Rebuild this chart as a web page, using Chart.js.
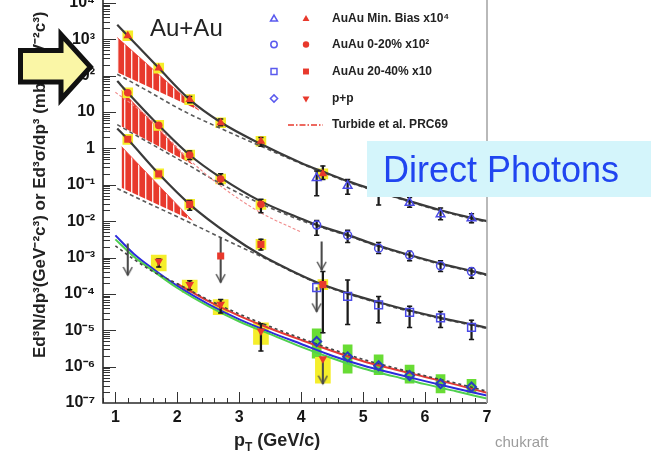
<!DOCTYPE html>
<html>
<head>
<meta charset="utf-8">
<script src="https://cdn.jsdelivr.net/npm/chart.js@4.4.1/dist/chart.umd.min.js"></script>
<style>
  html, body { margin: 0; padding: 0; background: #fff; overflow: hidden; }
  #marco { position: relative; width: 667px; height: 462px; overflow: hidden; }
  #grafica { position: absolute; left: 0; top: -51px; }
</style>
</head>
<body>
<div id="marco"><canvas id="grafica" width="667" height="513"></canvas></div>
<script>
// Ticks de los ejes
const ticksY = [1e-7, 1e-6, 1e-5, 1e-4, 1e-3, 1e-2, 1e-1, 1, 10, 100, 1e3, 1e4, 1e5];
const ticksX = [1, 2, 3, 4, 5, 6, 7];
const leyendaTextos = ["AuAu Min. Bias x10⁴", "AuAu 0-20% x10²", "AuAu 20-40% x10", "p+p", "Turbide et al. PRC69"];

// AuAu Min. Bias x10^4
const mbX = [1.2, 1.7, 2.2, 2.7, 3.35, 4.35];
const mbY = [1260, 162, 22, 5.1, 1.57, 0.2];
const mbErrBajo = [null, null, 18, 4.2, 1.15, 0.14];
const mbErrAlto = [null, null, 27, 6.4, 2.0, 0.33];
const mbAltoX = [4.25, 4.75, 5.25, 5.75, 6.25, 6.75];
const mbAltoY = [0.155, 0.094, 0.06, 0.032, 0.0155, 0.012];
const mbAltoErrBajo = [0.05, 0.055, 0.028, 0.024, 0.011, 0.009];
const mbAltoErrAlto = [0.24, 0.14, 0.09, 0.045, 0.023, 0.016];
const mbAjusteX = [1.03, 1.2, 1.7, 2.2, 2.7, 3.35, 4.0, 4.35, 4.75, 5.25, 5.75, 6.25, 6.75, 7.0];
const mbAjusteY = [2510, 1260, 162, 21.9, 5.25, 1.32, 0.40, 0.23, 0.126, 0.066, 0.0355, 0.020, 0.0123, 0.010];
const mbPqcdX = [1.03, 1.5, 2.1, 2.7, 3.35, 4.0, 4.35, 4.75, 5.25, 5.75, 6.25, 6.75, 7.0];
const mbPqcdY = [110, 40, 10.7, 3.55, 1.15, 0.38, 0.22, 0.12, 0.063, 0.034, 0.019, 0.0117, 0.0095];
const mbBandaX = [1.03, 2.35];
const mbBandaAlto = [1120, 11.2];
const mbBandaBajo = [125, 11.2];

// AuAu 0-20% x10^2
const c020X = [1.2, 1.7, 2.2, 2.7, 3.35];
const c020Y = [34, 4.3, 0.66, 0.145, 0.029];
const c020ErrBajo = [null, null, 0.5, 0.105, 0.017];
const c020ErrAlto = [null, null, 0.85, 0.2, 0.04];
const c020AltoX = [4.25, 4.75, 5.25, 5.75, 6.25, 6.75];
const c020AltoY = [0.0078, 0.0041, 0.0018, 0.00117, 0.00059, 0.00041];
const c020AltoErrBajo = [0.0041, 0.0026, 0.0013, 0.00081, 0.00041, 0.00027];
const c020AltoErrAlto = [0.0105, 0.0056, 0.0026, 0.0015, 0.00081, 0.00052];
const c020AjusteX = [1.03, 1.2, 1.7, 2.2, 2.7, 3.35, 4.0, 4.25, 4.75, 5.25, 5.75, 6.25, 6.75, 7.0];
const c020AjusteY = [71, 34, 4.3, 0.66, 0.158, 0.035, 0.0117, 0.0079, 0.0042, 0.0021, 0.00117, 0.00068, 0.00043, 0.00034];
const c020PqcdX = [1.03, 1.5, 2.1, 2.7, 3.35, 4.0, 4.25, 4.75, 5.25, 5.75, 6.25, 6.75, 7.0];
const c020PqcdY = [4.5, 1.58, 0.42, 0.107, 0.030, 0.0105, 0.0074, 0.004, 0.002, 0.00112, 0.00065, 0.00041, 0.00032];
const c020BandaX = [1.1, 2.24];
const c020BandaAlto = [39, 0.37];
const c020BandaBajo = [4.0, 0.37];
const turbideX = [1.0, 1.5, 2.2, 2.7, 3.35, 4.0];
const turbideY = [35, 8, 0.48, 0.093, 0.017, 0.005];

// AuAu 20-40% x10
const c2040X = [1.2, 1.7, 2.2, 2.7, 3.35, 4.35];
const c2040Y = [1.78, 0.2, 0.029, 0.0011, 0.0023, 1.8e-4];
const c2040ErrBajo = [null, null, 0.02, null, 0.0016, 8.5e-6];
const c2040ErrAlto = [null, null, 0.037, null, 0.0032, 4.1e-4];
const c2040SisX = [1.2, 1.7, 2.2, 3.35, 4.35];
const c2040SisY = [1.78, 0.2, 0.029, 0.0023, 1.8e-4];
const c2040AltoX = [4.25, 4.75, 5.25, 5.75, 6.25, 6.75];
const c2040AltoY = [1.5e-4, 8.5e-5, 5e-5, 3.1e-5, 2.2e-5, 1.2e-5];
const c2040AltoErrBajo = [null, 1.45e-5, 1.6e-5, 1.2e-5, 1.2e-5, 5.6e-6];
const c2040AltoErrAlto = [null, 2.4e-4, 8.5e-5, 4.6e-5, 3.3e-5, 1.9e-5];
const c2040AjusteX = [1.03, 1.2, 1.7, 2.2, 2.85, 3.35, 3.8, 4.25, 4.75, 5.25, 5.75, 6.25, 6.75, 7.0];
const c2040AjusteY = [3.55, 1.78, 0.2, 0.029, 0.0041, 0.00117, 4.7e-4, 2.1e-4, 1.05e-4, 5.9e-5, 3.5e-5, 2.2e-5, 1.45e-5, 1.17e-5];
const c2040PqcdX = [1.03, 1.5, 2.1, 2.7, 3.35, 4.25, 4.75, 5.25, 5.75, 6.25, 6.75, 7.0];
const c2040PqcdY = [0.079, 0.033, 0.011, 0.00355, 0.00107, 2.0e-4, 1.0e-4, 5.6e-5, 3.3e-5, 2.1e-5, 1.38e-5, 1.12e-5];
const c2040BandaX = [1.1, 2.24];
const c2040BandaAlto = [1.12, 0.0105];
const c2040BandaBajo = [0.083, 0.0105];

// p+p
const ppX = [1.7, 2.2, 2.7, 3.35, 4.35];
const ppY = [7.9e-4, 1.8e-4, 5.2e-5, 9.6e-6, 1.65e-6];
const ppErrBajo = [5.5e-4, 1.3e-4, 3e-5, 2.7e-6, null];
const ppErrAlto = [9.1e-4, 2.3e-4, 7e-5, 1.5e-5, null];
const ppSisBajo = [4.3e-4, 1.1e-4, 2.7e-5, 4.1e-6, 3.5e-7];
const ppSisAlto = [1.17e-3, 2.4e-4, 7e-5, 1.6e-5, 1.8e-6];
const ppAltoX = [4.25, 4.75, 5.25, 5.75, 6.25, 6.75];
const ppAltoY = [4.9e-6, 1.86e-6, 1.06e-6, 5.7e-7, 3.4e-7, 2.75e-7];
const ppAltoSisBajo = [1.7e-6, 6.6e-7, 6e-7, 3.5e-7, 1.9e-7, 1.9e-7];
const ppAltoSisAlto = [1.1e-5, 4e-6, 2.1e-6, 1.1e-6, 6e-7, 4.5e-7];
const nloX = [1.0, 1.3, 1.6, 2.0, 2.5, 3.0, 3.5, 4.0, 4.5, 5.0, 5.5, 6.0, 6.5, 7.0];
const nloAzulY = [4.07e-3, 1.26e-3, 5.0e-4, 1.66e-4, 5.25e-5, 2.0e-5, 8.9e-6, 4.2e-6, 2.0e-6, 1.07e-6, 6.5e-7, 4.0e-7, 2.5e-7, 1.6e-7];
const nloVerdeY = [3.16e-3, 1.05e-3, 4.4e-4, 1.45e-4, 4.6e-5, 1.74e-5, 7.8e-6, 3.5e-6, 1.7e-6, 8.9e-7, 5.4e-7, 3.3e-7, 2.1e-7, 1.32e-7];
const nloGuionY = [2.1e-3, 8.9e-4, 4.2e-4, 1.9e-4, 6.9e-5, 2.8e-5, 1.26e-5, 6.0e-6, 3.0e-6, 1.58e-6, 9.3e-7, 5.6e-7, 3.5e-7, 2.1e-7];
const nloRojoX = [2.0, 2.5, 3.0, 3.5, 4.0, 4.5, 5.0, 5.5, 6.0, 6.5, 7.0];
const nloRojoY = [1.9e-4, 6.3e-5, 2.5e-5, 1.12e-5, 5.4e-6, 2.7e-6, 1.41e-6, 8.5e-7, 5.2e-7, 3.2e-7, 1.9e-7];

// Limites superiores (flechas)
const limiteX = [1.2, 2.7, 4.33, 4.25, 4.35];
const limiteArriba = [2.4e-3, 3.6e-3, 2.7e-3, 1.5e-4, 1.65e-6];
const limiteAbajo = [3.3e-4, 2.1e-4, 4.6e-4, 3.3e-5, 3.4e-7];

const ROJO = "#e8392c";
const AZUL = "#4a4ae6";
const AMARILLO = "#f5ee2a";
const VERDE = "#68dc34";
const FUENTE = "'Liberation Sans', Arial, Helvetica, sans-serif";
const DESFASE = 51; // el canvas empieza 51px arriba de la pagina

const SUP = { "-": "⁻", "0": "⁰", "1": "¹", "2": "²", "3": "³", "4": "⁴", "5": "⁵", "6": "⁶", "7": "⁷", "8": "⁸", "9": "⁹" };
function potencia(v) {
  const e = Math.round(Math.log10(v));
  if (e === 0) return "1";
  if (e === 1) return "10";
  return "10" + String(e).split("").map(c => SUP[c]).join("");
}

const pts = (xs, ys) => xs.map((x, i) => ({ x: x, y: ys[i] }));
const rangos = (xs, lo, hi) => xs.map((x, i) => lo[i] == null ? null : { x: x, y: [lo[i], hi[i]] }).filter(d => d);
const tapas = (xs, lo, hi) => xs.flatMap((x, i) => lo[i] == null ? [] : [{ x: x, y: lo[i] }, { x: x, y: hi[i] }]);

// Rayado rojo para las bandas
const rayado = (function () {
  const c = document.createElement("canvas");
  c.width = 7; c.height = 7;
  const g = c.getContext("2d");
  g.fillStyle = ROJO; g.fillRect(0, 0, 7, 7);
  g.fillStyle = "rgba(255,255,255,0.9)"; g.fillRect(5, 0, 1.4, 7);
  return g.createPattern(c, "repeat");
})();

// Punta de flecha abierta (la punta queda en el centro de la imagen)
const punta = (function () {
  const c = document.createElement("canvas");
  c.width = 11; c.height = 22;
  const g = c.getContext("2d");
  g.strokeStyle = "#4a4a4a"; g.lineWidth = 1.4;
  g.beginPath(); g.moveTo(1, 3); g.lineTo(5.5, 11); g.lineTo(10, 3); g.stroke();
  return c;
})();

function curva(xs, ys, color, ancho, guiones, orden) {
  return {
    type: "line", data: pts(xs, ys), borderColor: color, borderWidth: ancho,
    borderDash: guiones || [], pointRadius: 0, fill: false,
    cubicInterpolationMode: "monotone", order: orden || 90
  };
}
function banda(xs, alto, bajo) {
  return [
    { type: "line", data: pts(xs, alto), borderColor: ROJO, borderWidth: 0.8, pointRadius: 0, fill: "+1", backgroundColor: rayado, order: 100 },
    { type: "line", data: pts(xs, bajo), borderColor: "rgba(0,0,0,0)", borderWidth: 0.5, pointRadius: 0, fill: false, order: 100 }
  ];
}
function cajas(xs, lo, hi, color, grosor) {
  return { type: "bar", data: rangos(xs, lo, hi), backgroundColor: color, borderWidth: 0, barThickness: grosor, grouped: false, order: 95 };
}
function marcas(xs, ys, estilo, radio, relleno, borde, ancho, giro, orden) {
  return {
    type: "scatter", data: pts(xs, ys), pointStyle: estilo, pointRadius: radio,
    pointBackgroundColor: relleno, pointBorderColor: borde, pointBorderWidth: ancho,
    pointRotation: giro || 0, order: orden || 10
  };
}
function errores(xs, lo, hi) {
  return [
    { type: "bar", data: rangos(xs, lo, hi), backgroundColor: "#1a1a1a", borderWidth: 0, barThickness: 1.6, grouped: false, order: 60 },
    { type: "scatter", data: tapas(xs, lo, hi), pointStyle: "line", pointRadius: 2.6, pointBorderColor: "#1a1a1a", pointBorderWidth: 1.5, order: 59 }
  ];
}

const datasets = [
  ...banda(mbBandaX, mbBandaAlto, mbBandaBajo),
  ...banda(c020BandaX, c020BandaAlto, c020BandaBajo),
  ...banda(c2040BandaX, c2040BandaAlto, c2040BandaBajo),
  curva(mbAjusteX, mbAjusteY, "#3a3a3a", 2.2),
  curva(c020AjusteX, c020AjusteY, "#3a3a3a", 2.2),
  curva(c2040AjusteX, c2040AjusteY, "#3a3a3a", 2.2),
  curva(mbPqcdX, mbPqcdY, "#5a5a5a", 1.6, [4, 3]),
  curva(c020PqcdX, c020PqcdY, "#5a5a5a", 1.6, [4, 3]),
  curva(c2040PqcdX, c2040PqcdY, "#5a5a5a", 1.6, [4, 3]),
  curva(turbideX, turbideY, "#f08a8a", 1.1, [3, 2], 85),
  curva(nloX, nloVerdeY, "#4fd04f", 2),
  curva(nloX, nloAzulY, "#2b2bdc", 2),
  curva(nloRojoX, nloRojoY, "#e53935", 2),
  curva(nloX, nloGuionY, "#444", 1.6, [3, 3], 89),
  cajas(ppX, ppSisBajo, ppSisAlto, AMARILLO, 15),
  cajas(ppAltoX, ppAltoSisBajo, ppAltoSisAlto, VERDE, 9),
  marcas(mbX, mbY, "rect", 7.5, AMARILLO, AMARILLO, 0, 0, 94),
  marcas(c020X, c020Y, "rect", 7.5, AMARILLO, AMARILLO, 0, 0, 94),
  marcas(c2040SisX, c2040SisY, "rect", 7.5, AMARILLO, AMARILLO, 0, 0, 94),
  ...errores(mbX, mbErrBajo, mbErrAlto),
  ...errores(mbAltoX, mbAltoErrBajo, mbAltoErrAlto),
  ...errores(c020X, c020ErrBajo, c020ErrAlto),
  ...errores(c020AltoX, c020AltoErrBajo, c020AltoErrAlto),
  ...errores(c2040X, c2040ErrBajo, c2040ErrAlto),
  ...errores(c2040AltoX, c2040AltoErrBajo, c2040AltoErrAlto),
  ...errores(ppX, ppErrBajo, ppErrAlto),
  { type: "bar", data: rangos(limiteX, limiteAbajo, limiteArriba), backgroundColor: "#4a4a4a", borderWidth: 0, barThickness: 1.4, grouped: false, order: 58 },
  marcas(limiteX, limiteAbajo, punta, 5, "#4a4a4a", "#4a4a4a", 0, 0, 57),
  marcas(mbX, mbY, "triangle", 5, ROJO, ROJO, 0),
  marcas(c020X, c020Y, "circle", 3.8, ROJO, ROJO, 0),
  marcas(c2040X, c2040Y, "rect", 5, ROJO, ROJO, 0),
  marcas(ppX, ppY, "triangle", 5, ROJO, ROJO, 0, 180),
  marcas(mbAltoX, mbAltoY, "triangle", 5, "rgba(0,0,0,0)", AZUL, 1.5),
  marcas(c020AltoX, c020AltoY, "circle", 4, "rgba(0,0,0,0)", AZUL, 1.5),
  marcas(c2040AltoX, c2040AltoY, "rect", 5.5, "rgba(0,0,0,0)", AZUL, 1.5),
  marcas(ppAltoX, ppAltoY, "rectRot", 4.5, "rgba(0,0,0,0)", "#2a3cc0", 2)
];

function dibujarMarca(ctx, estilo, x, y, r, relleno, borde, ancho, giro) {
  ctx.fillStyle = relleno;
  ctx.strokeStyle = borde;
  ctx.lineWidth = ancho || 1;
  Chart.helpers.drawPoint(ctx, { pointStyle: estilo, radius: r, rotation: giro || 0, borderWidth: ancho }, x, y);
}

// Marcas de los ejes hacia adentro, marco y textos
const decoracion = {
  id: "decoracion",
  afterDatasetsDraw(chart) {
    const { ctx, chartArea: a, scales: { x, y } } = chart;
    ctx.save();
    ctx.strokeStyle = "#333"; ctx.lineWidth = 1;
    for (let e = -7; e <= 4; e++) {
      for (let m = 1; m <= 9; m++) {
        const py = Math.round(y.getPixelForValue(m * Math.pow(10, e))) + 0.5;
        if (py < a.top || py > a.bottom) continue;
        ctx.beginPath(); ctx.moveTo(a.left, py); ctx.lineTo(a.left + (m === 1 ? 13 : 7), py); ctx.stroke();
      }
    }
    for (let k = 0; k <= 31; k++) {
      const v = 0.8 + k * 0.2;
      const px = Math.round(x.getPixelForValue(v)) + 0.5;
      const mayor = Math.abs(v - Math.round(v)) < 0.01;
      ctx.beginPath(); ctx.moveTo(px, a.bottom); ctx.lineTo(px, a.bottom - (mayor ? 11 : 5)); ctx.stroke();
    }
    ctx.lineWidth = 1.6;
    ctx.strokeStyle = "#2a2a2a";
    ctx.beginPath(); ctx.moveTo(a.left, a.top); ctx.lineTo(a.left, a.bottom); ctx.lineTo(a.right, a.bottom); ctx.stroke();
    ctx.strokeStyle = "#a8a8a8";
    ctx.beginPath(); ctx.moveTo(a.right, a.top); ctx.lineTo(a.right, a.bottom); ctx.stroke();
    ctx.restore();
  },
  afterDraw(chart) {
    const ctx = chart.ctx;
    const D = DESFASE;
    ctx.save();

    // Leyenda
    const filas = [19, 44.5, 71.5, 98.5, 125];
    const azules = [["triangle", 4, 0], ["circle", 3.2, 0], ["rect", 4.2, 0], ["rectRot", 3.6, 0]];
    const rojos = [["triangle", 4, 0], ["circle", 3.2, 0], ["rect", 4.2, 0], ["triangle", 4, 180]];
    for (let i = 0; i < 4; i++) {
      dibujarMarca(ctx, azules[i][0], 274, filas[i] + D, azules[i][1], "rgba(0,0,0,0)", "#5a5aee", 1.5, azules[i][2]);
      dibujarMarca(ctx, rojos[i][0], 306, filas[i] + D, rojos[i][1], ROJO, ROJO, 0, rojos[i][2]);
    }
    ctx.strokeStyle = ROJO; ctx.lineWidth = 1.5; ctx.setLineDash([6, 2, 1.5, 2]);
    ctx.beginPath(); ctx.moveTo(288, filas[4] + D); ctx.lineTo(323, filas[4] + D); ctx.stroke();
    ctx.setLineDash([]);
    ctx.fillStyle = "#222"; ctx.font = "bold 12px " + FUENTE;
    ctx.textAlign = "left"; ctx.textBaseline = "middle";
    leyendaTextos.forEach((t, i) => ctx.fillText(t, 332, filas[i] + D));

    // Au+Au
    ctx.font = "24px " + FUENTE; ctx.textBaseline = "alphabetic"; ctx.fillStyle = "#222";
    ctx.fillText("Au+Au", 150, 36 + D);

    // Titulo del eje x con subindice
    ctx.font = "bold 18px " + FUENTE;
    let px = 234;
    ctx.fillText("p", px, 446 + D); px += ctx.measureText("p").width;
    ctx.font = "bold 12px " + FUENTE;
    ctx.fillText("T", px, 451 + D); px += ctx.measureText("T").width;
    ctx.font = "bold 18px " + FUENTE;
    ctx.fillText(" (GeV/c)", px, 446 + D);

    // Recuadro "Direct Photons"
    ctx.fillStyle = "#d4f5fb";
    ctx.fillRect(367, 141 + D, 284, 56);
    ctx.fillStyle = "#2045f0"; ctx.font = "36px " + FUENTE;
    ctx.fillText("Direct Photons", 383, 182 + D);

    // Credito
    ctx.fillStyle = "#9c9c9c"; ctx.font = "15px " + FUENTE;
    ctx.fillText("chukraft", 495, 447 + D);

    // Flecha amarilla
    ctx.beginPath();
    ctx.moveTo(20.5, 50.5 + D); ctx.lineTo(61, 50.5 + D); ctx.lineTo(61, 34.5 + D);
    ctx.lineTo(90.5, 67 + D); ctx.lineTo(61, 99.5 + D); ctx.lineTo(61, 82 + D);
    ctx.lineTo(20.5, 82 + D); ctx.closePath();
    ctx.fillStyle = "#faf6a6"; ctx.fill();
    ctx.lineWidth = 5; ctx.lineJoin = "miter"; ctx.strokeStyle = "#111"; ctx.stroke();
    ctx.restore();
  }
};

new Chart(document.getElementById("grafica"), {
  type: "scatter",
  data: { datasets: datasets },
  options: {
    responsive: false,
    animation: false,
    devicePixelRatio: 1,
    events: [],
    layout: { padding: { top: 12, right: 180, bottom: 0, left: 0 } },
    plugins: { legend: { display: false }, tooltip: { enabled: false } },
    scales: {
      x: {
        type: "linear", min: 0.8, max: 7, offset: false,
        grid: { display: false, drawTicks: false }, border: { display: false },
        afterBuildTicks: s => { s.ticks = ticksX.map(v => ({ value: v })); },
        afterFit: s => { s.height = 59; },
        ticks: { padding: 5, color: "#151515", font: { family: FUENTE, size: 16, weight: "bold" }, maxRotation: 0 }
      },
      y: {
        type: "logarithmic", min: 1e-7, max: 1e5,
        grid: { display: false, drawTicks: false }, border: { display: false },
        afterBuildTicks: s => { s.ticks = ticksY.map(v => ({ value: v })); },
        afterFit: s => { s.width = 103; },
        ticks: { padding: 8, color: "#151515", font: { family: FUENTE, size: 16, weight: "bold" }, callback: v => potencia(v) },
        title: {
          display: true,
          text: "Ed³N/dp³(GeV⁻²c³) or Ed³σ/dp³ (mb GeV⁻²c³)",
          color: "#222",
          font: { family: FUENTE, size: 17, weight: "bold" },
          padding: { top: 30, bottom: 0 }
        }
      }
    }
  },
  plugins: [decoracion]
});
</script>
</body>
</html>
